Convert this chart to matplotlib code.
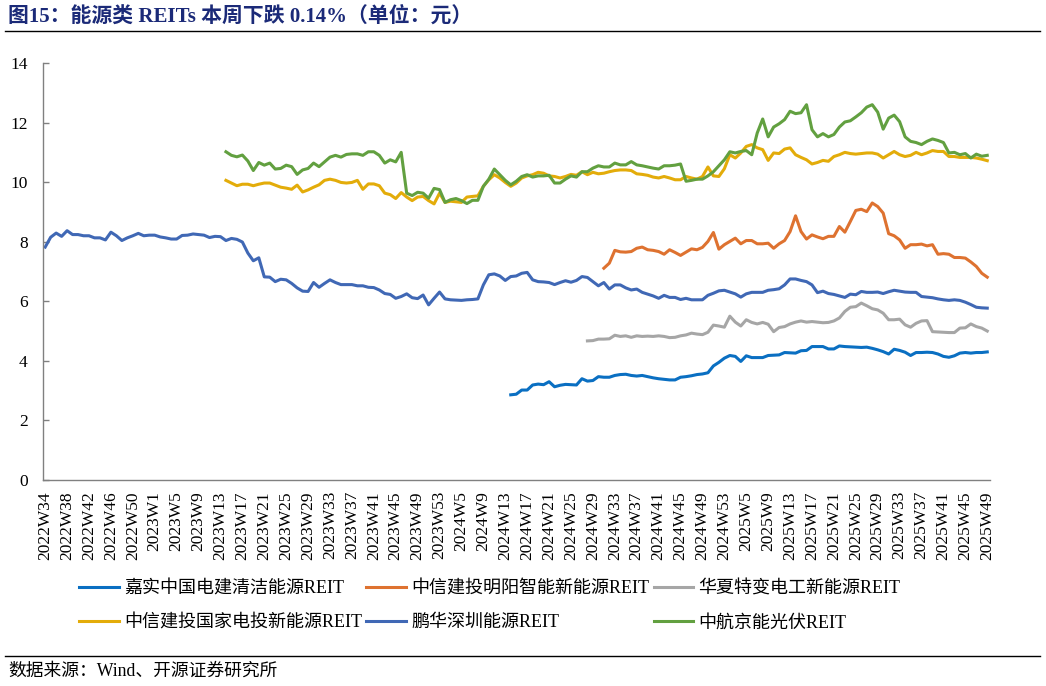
import matplotlib
matplotlib.use("Agg")
import matplotlib.pyplot as plt
from matplotlib.lines import Line2D
import numpy as np

# ---- week labels (index 0 = 2022W34 ... 172 = 2025W49) ----
weeks = []
for w in range(34, 54):
    weeks.append("2022W%d" % w)
for w in range(1, 54):
    weeks.append("2023W%d" % w)
for w in range(2, 54):
    weeks.append("2024W%d" % w)
for w in range(2, 50):
    weeks.append("2025W%d" % w)

# ---- series (start week) ----
penghua_start = "2022W34"
penghua = [7.82, 8.15, 8.29, 8.18, 8.37, 8.24, 8.24, 8.2, 8.2, 8.13,
           8.13, 8.06, 8.32, 8.2, 8.04, 8.13, 8.2, 8.28, 8.2, 8.22,
           8.22, 8.16, 8.13, 8.09, 8.09, 8.21, 8.22, 8.26, 8.24, 8.22,
           8.14, 8.18, 8.17, 8.04, 8.11, 8.08, 7.99, 7.62, 7.36, 7.46,
           6.82, 6.81, 6.66, 6.74, 6.72, 6.6, 6.45, 6.34, 6.33, 6.63,
           6.47, 6.6, 6.72, 6.63, 6.56, 6.56, 6.56, 6.52, 6.52, 6.47,
           6.46, 6.38, 6.26, 6.23, 6.1, 6.16, 6.25, 6.12, 6.09, 6.21,
           5.88, 6.1, 6.31, 6.08, 6.05, 6.04, 6.03, 6.05, 6.06, 6.08,
           6.55, 6.89, 6.92, 6.85, 6.7, 6.83, 6.85, 6.94, 6.97, 6.72,
           6.66, 6.65, 6.63, 6.56, 6.63, 6.69, 6.64, 6.7, 6.83, 6.8,
           6.66, 6.52, 6.63, 6.41, 6.55, 6.55, 6.45, 6.38, 6.41, 6.3,
           6.24, 6.18, 6.1, 6.2, 6.13, 6.13, 6.06, 6.1, 6.05, 6.05,
           6.05, 6.2, 6.27, 6.35, 6.37, 6.31, 6.25, 6.14, 6.25, 6.3,
           6.3, 6.3, 6.37, 6.39, 6.42, 6.55, 6.75, 6.75, 6.7, 6.66,
           6.55, 6.29, 6.34, 6.26, 6.23, 6.18, 6.13, 6.24, 6.22, 6.33,
           6.3, 6.3, 6.31, 6.26, 6.32, 6.37, 6.34, 6.31, 6.3, 6.3,
           6.16, 6.14, 6.12, 6.08, 6.05, 6.03, 6.05, 6.03, 5.97, 5.89,
           5.8, 5.78, 5.77]

jingneng_start = "2023W14"
jingneng = [11.02, 10.9, 10.85, 10.91, 10.71, 10.39, 10.66,
            10.57, 10.64, 10.44, 10.46, 10.57, 10.52, 10.26, 10.41, 10.46, 10.64,
            10.52, 10.68, 10.84, 10.9, 10.84, 10.93, 10.95, 10.95, 10.9, 11.02,
            11.02, 10.9, 10.64, 10.75, 10.68, 11.0, 9.63, 9.55, 9.66, 9.63,
            9.46, 9.79, 9.75, 9.32, 9.41, 9.45, 9.38, 9.28, 9.39, 9.39,
            9.86, 10.1, 10.44, 10.25, 10.06, 9.91, 10.03, 10.19, 10.25, 10.17,
            10.21, 10.21, 10.23, 9.97, 9.97, 10.1, 10.21, 10.17, 10.35, 10.35,
            10.47, 10.55, 10.51, 10.51, 10.64, 10.58, 10.58, 10.69, 10.58, 10.55,
            10.51, 10.47, 10.44, 10.55, 10.55, 10.57, 10.61, 10.03, 10.06, 10.1,
            10.1, 10.21, 10.35, 10.55, 10.75, 11.02, 10.98, 11.03, 11.06, 10.92,
            11.65, 12.12, 11.52, 11.85, 11.96, 12.1, 12.38, 12.3, 12.33, 12.6,
            11.76, 11.52, 11.63, 11.52, 11.6, 11.85, 12.02, 12.06, 12.19, 12.33,
            12.52, 12.6, 12.35, 11.78, 12.15, 12.25, 12.03, 11.52, 11.37, 11.33,
            11.26, 11.37, 11.45, 11.4, 11.33, 10.98, 11.0, 10.92, 10.96, 10.81,
            10.94, 10.87, 10.9]

guojia_start = "2023W14"
guojia = [10.06, 9.97, 9.88, 9.93, 9.93, 9.88, 9.93,
          9.97, 9.97, 9.9, 9.83, 9.8, 9.76, 9.9, 9.67, 9.74, 9.83,
          9.91, 10.06, 10.1, 10.06, 9.99, 9.97, 9.99, 10.06, 9.76, 9.94,
          9.94, 9.88, 9.63, 9.58, 9.45, 9.65, 9.5, 9.38, 9.5, 9.52,
          9.38, 9.27, 9.63, 9.32, 9.36, 9.34, 9.32, 9.5, 9.52, 9.54,
          9.86, 10.08, 10.25, 10.14, 9.99, 9.86, 9.97, 10.14, 10.21, 10.25,
          10.33, 10.3, 10.21, 10.19, 10.14, 10.19, 10.26, 10.23, 10.35, 10.25,
          10.33, 10.28, 10.3, 10.35, 10.39, 10.41, 10.41, 10.39, 10.28, 10.26,
          10.23, 10.17, 10.14, 10.19, 10.14, 10.08, 10.08, 10.19, 10.14, 10.1,
          10.19, 10.51, 10.21, 10.19, 10.45, 10.92, 10.81, 10.98, 11.2, 11.26,
          11.15, 11.09, 10.73, 10.98, 10.96, 11.11, 11.15, 10.92, 10.83, 10.75,
          10.61, 10.66, 10.73, 10.7, 10.86, 10.92, 11.0, 10.96, 10.94, 10.96,
          10.98, 10.98, 10.94, 10.81, 10.92, 11.03, 10.92, 10.86, 10.9, 11.0,
          10.92, 10.98, 11.06, 11.03, 11.03, 10.86, 10.86, 10.83, 10.83, 10.83,
          10.81, 10.77, 10.72]

jiashi_start = "2024W14"
jiashi = [2.86, 2.88, 3.02, 3.02, 3.19,
          3.22, 3.2, 3.3, 3.13, 3.18, 3.21, 3.2, 3.19, 3.4, 3.32,
          3.34, 3.47, 3.45, 3.45, 3.51, 3.54, 3.55, 3.51, 3.49, 3.51,
          3.47, 3.43, 3.4, 3.38, 3.36, 3.36, 3.45, 3.47, 3.5, 3.54,
          3.56, 3.6, 3.83, 3.95, 4.09, 4.18, 4.15, 3.98, 4.17, 4.11,
          4.11, 4.11, 4.18, 4.19, 4.2, 4.28, 4.27, 4.26, 4.34, 4.35,
          4.48, 4.48, 4.48, 4.4, 4.4, 4.5, 4.48, 4.47, 4.46, 4.45,
          4.46, 4.42, 4.37, 4.31, 4.23, 4.39, 4.35, 4.29, 4.18, 4.28,
          4.28, 4.29, 4.28, 4.23, 4.15, 4.12, 4.17, 4.26, 4.28, 4.26,
          4.28, 4.28, 4.3]

mingyang_start = "2024W31"
mingyang = [7.11, 7.28, 7.71, 7.66, 7.65, 7.67, 7.78, 7.82,
            7.73, 7.71, 7.67, 7.58, 7.73, 7.64, 7.54, 7.65, 7.76, 7.73,
            7.81, 8.01, 8.31, 7.75, 7.9, 8.01, 8.12, 7.93, 8.04, 8.04,
            7.93, 7.93, 7.95, 7.78, 7.93, 8.04, 8.34, 8.87, 8.34, 8.09,
            8.23, 8.16, 8.1, 8.18, 8.18, 8.51, 8.32, 8.68, 9.05, 9.09,
            9.01, 9.3, 9.18, 8.96, 8.27, 8.2, 8.06, 7.78, 7.9, 7.9,
            7.92, 7.86, 7.9, 7.58, 7.6, 7.58, 7.47, 7.47, 7.45, 7.32,
            7.17, 6.94, 6.81]

huaxia_start = "2024W28"
huaxia = [4.67,
          4.68, 4.73, 4.73, 4.74, 4.86, 4.82, 4.84, 4.79, 4.84, 4.82,
          4.83, 4.82, 4.84, 4.82, 4.78, 4.79, 4.84, 4.87, 4.93, 4.9,
          4.88, 4.96, 5.2, 5.17, 5.13, 5.5, 5.3, 5.17, 5.38, 5.29,
          5.24, 5.29, 5.23, 4.98, 5.12, 5.15, 5.24, 5.3, 5.34, 5.3,
          5.32, 5.3, 5.28, 5.29, 5.34, 5.44, 5.66, 5.8, 5.82, 5.94,
          5.85, 5.75, 5.71, 5.6, 5.38, 5.38, 5.4, 5.21, 5.13, 5.26,
          5.34, 5.35, 4.98, 4.97, 4.96, 4.95, 4.95, 5.1, 5.11, 5.24,
          5.15, 5.1, 5.0]

series = [
    ("嘉实中国电建清洁能源REIT", jiashi_start, jiashi, "#0A6FC2"),
    ("中信建投明阳智能新能源REIT", mingyang_start, mingyang, "#DE7230"),
    ("华夏特变电工新能源REIT", huaxia_start, huaxia, "#A6A6A6"),
    ("中信建投国家电投新能源REIT", guojia_start, guojia, "#E3AC0A"),
    ("鹏华深圳能源REIT", penghua_start, penghua, "#4068B5"),
    ("中航京能光伏REIT", jingneng_start, jingneng, "#62A040"),
]

fonts = ['Liberation Serif', 'Noto Sans CJK SC']
plt.rcParams['font.family'] = fonts

W, H = 1046, 686
fig = plt.figure(figsize=(W / 100, H / 100), dpi=100)
ax = fig.add_axes([43 / W, 1 - 480 / H, (990 - 43) / W, (480 - 63) / H])

lines = {}
for name, start, vals, col in series:
    i0 = weeks.index(start)
    x = np.arange(i0, i0 + len(vals))
    ln, = ax.plot(x, vals, color=col, linewidth=2.2, solid_joinstyle='round')
    lines[name] = ln

ax.set_xlim(-0.4, len(weeks) - 0.5)
ax.set_ylim(0, 14)
ax.set_yticks(np.arange(0, 15, 2))
tick_pos = np.arange(0, len(weeks), 4)
ax.set_xticks(tick_pos)
ax.set_xticklabels([weeks[i] for i in tick_pos], rotation=90, fontsize=12.5)
ax.tick_params(axis='x', length=0, pad=8)
ax.tick_params(axis='y', direction='in', length=4, width=1, color='#808080',
               labelsize=12.5, pad=11)
for s in ['top', 'right']:
    ax.spines[s].set_visible(False)
for s in ['left', 'bottom']:
    ax.spines[s].set_color('#808080')
    ax.spines[s].set_linewidth(1)

# legend: Excel row order -> matplotlib column order
order = ["嘉实中国电建清洁能源REIT", "中信建投国家电投新能源REIT",
         "中信建投明阳智能新能源REIT", "鹏华深圳能源REIT",
         "华夏特变电工新能源REIT", "中航京能光伏REIT"]
fig.legend([lines[n] for n in order], order, ncol=3, loc='upper left',
           bbox_to_anchor=(79 / W, 1 - 580 / H), frameon=False, fontsize=13,
           handlelength=2.2, handletextpad=0.28, columnspacing=0.25,
           labelspacing=0.95, borderpad=0, borderaxespad=0)

# title, rules and source
fig.text(8 / W, 1 - 17 / H, "图15：能源类 REITs 本周下跌 0.14%（单位：元）",
         fontsize=15, fontweight='bold', color='#1B2A78', va='center', ha='left')
fig.add_artist(Line2D([5 / W, 1040 / W], [1 - 31 / H] * 2, transform=fig.transFigure,
                      color='black', linewidth=1))
fig.add_artist(Line2D([5 / W, 1040 / W], [1 - 656 / H] * 2, transform=fig.transFigure,
                      color='black', linewidth=1))
fig.text(8 / W, 1 - 671 / H, "数据来源：Wind、开源证券研究所", fontsize=12.8,
         va='center', ha='left')

fig.savefig("out.png", dpi=100)
